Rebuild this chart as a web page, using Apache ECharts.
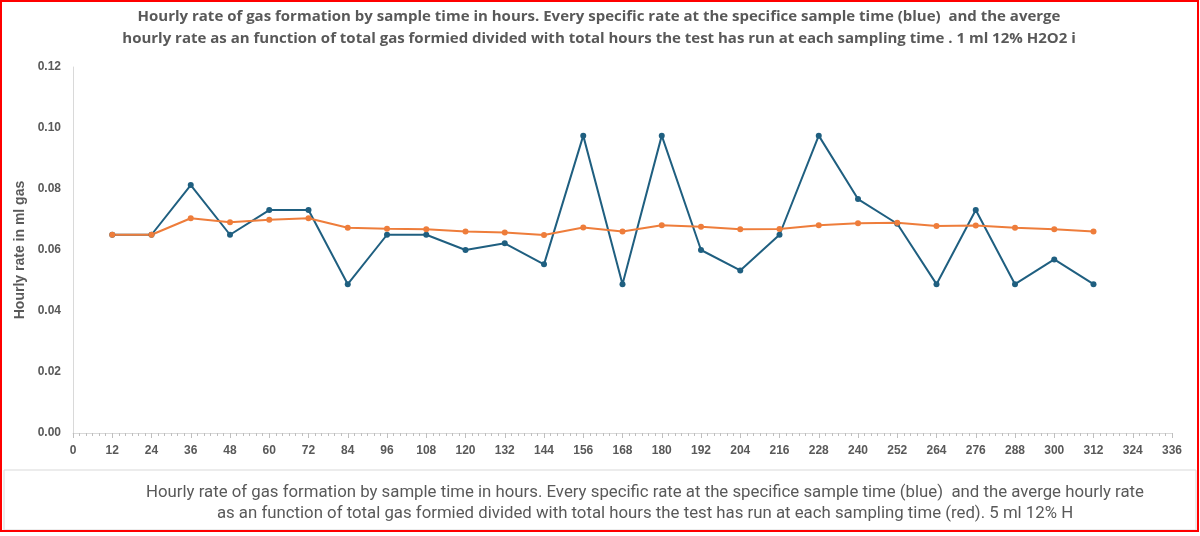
<!DOCTYPE html>
<html>
<head>
<meta charset="utf-8">
<script src="https://cdn.jsdelivr.net/npm/echarts@6/dist/echarts.min.js"></script>
<style>
  html, body { margin: 0; padding: 0; background: #fff; }
  #chart { width: 1200px; height: 536px; }
</style>
</head>
<body>
<div id="chart"></div>
<script>
// sample times in hours
var hours = [12, 24, 36, 48, 60, 72, 84, 96, 108, 120, 132, 144, 156, 168, 180, 192, 204, 216, 228, 240, 252, 264, 276, 288, 300, 312];
// specific rate at each sample time (blue)
var specificRate = [0.065, 0.065, 0.0813, 0.065, 0.0731, 0.0731, 0.0488, 0.065, 0.065, 0.060, 0.0622, 0.0553, 0.0975, 0.0488, 0.0975, 0.060, 0.0533, 0.065, 0.0975, 0.0767, 0.0686, 0.0488, 0.0731, 0.0488, 0.0569, 0.0488];
// average hourly rate (red/orange)
var averageRate = [0.065, 0.065, 0.0704, 0.0691, 0.0699, 0.0704, 0.0673, 0.0670, 0.0668, 0.0661, 0.0657, 0.0649, 0.0674, 0.0661, 0.0681, 0.0676, 0.0668, 0.0669, 0.0681, 0.0688, 0.0689, 0.0679, 0.0680, 0.0673, 0.0668, 0.0661];

var titleLines = [
    'Hourly rate of gas formation by sample time in hours. Every specific rate at the specifice sample time (blue)  and the averge',
    'hourly rate as an function of total gas formied divided with total hours the test has run at each sampling time . 1 ml 12% H2O2 i'
];
var captionLines = [
    'Hourly rate of gas formation by sample time in hours. Every specific rate at the specifice sample time (blue)  and the averge hourly rate',
    'as an function of total gas formied divided with total hours the test has run at each sampling time (red). 5 ml 12% H'
];

function pairs(xs, ys) {
    var out = [];
    for (var i = 0; i < xs.length; i++) out.push([xs[i], ys[i]]);
    return out;
}

var chart = echarts.init(document.getElementById('chart'));
var grey = '#595959';

var option = {
    animation: false,
    backgroundColor: '#fff',
    grid: { left: 73, right: 28, top: 67, bottom: 103 },
    graphic: [
        {
            type: 'rect', shape: { x: 4, y: 470, width: 1192, height: 60 },
            style: { fill: 'none', stroke: '#d9d9d9', lineWidth: 1 }
        },
        {
            type: 'text', x: 599, y: 6,
            style: {
                text: titleLines.join('\n'), fill: grey, align: 'center',
                font: 'bold 15px "Open Sans"', lineHeight: 22
            }
        },
        {
            type: 'text', x: 645, y: 482,
            style: {
                text: captionLines.join('\n'), fill: grey, align: 'center',
                font: '16.8px Roboto', lineHeight: 21
            }
        },
        {
            type: 'rect', shape: { x: 1, y: 1, width: 1197, height: 530 },
            style: { fill: 'none', stroke: '#ff0000', lineWidth: 2 }, z: 100
        }
    ],
    xAxis: {
        type: 'value', min: 0, max: 336, interval: 12,
        axisLine: { lineStyle: { color: '#d9d9d9', width: 1 } },
        axisTick: { show: true, length: 5, lineStyle: { color: '#bfbfbf' } },
        minorTick: { show: true, splitNumber: 6, length: 3, lineStyle: { color: '#bfbfbf' } },
        splitLine: { show: false },
        axisLabel: { color: grey, fontWeight: 'bold', fontSize: 12, fontFamily: 'Liberation Sans', margin: 12 }
    },
    yAxis: {
        type: 'value', min: 0, max: 0.12, interval: 0.02,
        name: 'Hourly rate in ml gas', nameLocation: 'middle', nameGap: 45,
        nameTextStyle: { color: grey, fontWeight: 'bold', fontSize: 14, fontFamily: 'Liberation Sans' },
        axisLine: { show: true, lineStyle: { color: '#d9d9d9' } },
        axisTick: { show: false },
        splitLine: { show: false },
        axisLabel: {
            color: grey, fontWeight: 'bold', fontSize: 12, fontFamily: 'Liberation Sans', margin: 12,
            formatter: function (v) { return v.toFixed(2); }
        }
    },
    series: [
        {
            name: 'Specific rate', type: 'line', data: pairs(hours, specificRate),
            symbol: 'circle', symbolSize: 6,
            lineStyle: { color: '#1f5f80', width: 2 },
            itemStyle: { color: '#1f5f80' }
        },
        {
            name: 'Average rate', type: 'line', data: pairs(hours, averageRate),
            symbol: 'circle', symbolSize: 6,
            lineStyle: { color: '#ee7d3b', width: 2 },
            itemStyle: { color: '#ee7d3b' }
        }
    ]
};

chart.setOption(option);
</script>
</body>
</html>
